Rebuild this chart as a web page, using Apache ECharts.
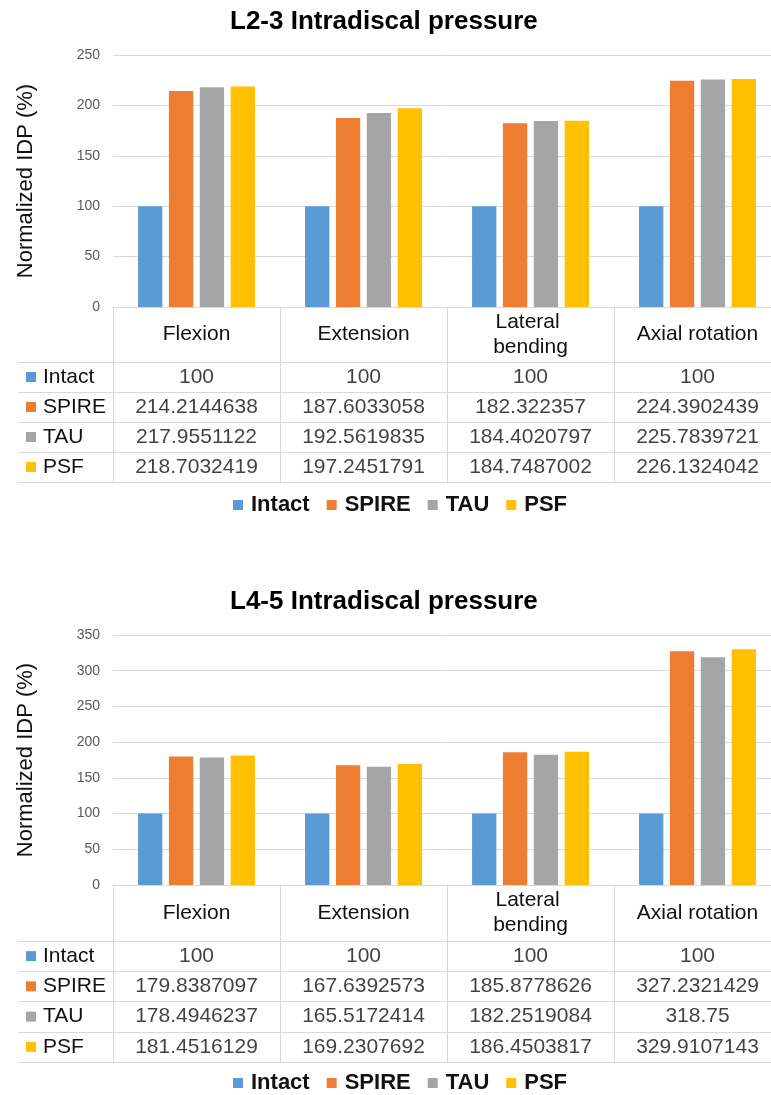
<!DOCTYPE html>
<html>
<head>
<meta charset="utf-8">
<script src="https://cdn.jsdelivr.net/npm/echarts@6/dist/echarts.min.js"></script>
<style>
html,body{margin:0;padding:0;background:#fff;}
#chart{width:771px;height:1095px;}
</style>
</head>
<body>
<div id="chart"></div>
<script>
// ---- data ----
const categories = ['Flexion', 'Extension', 'Lateral bending', 'Axial rotation'];
const seriesNames = ['Intact', 'SPIRE', 'TAU', 'PSF'];
const titles = ['L2-3 Intradiscal pressure', 'L4-5 Intradiscal pressure'];
const yAxisName = 'Normalized IDP (%)';

// L2-3
const l23Intact = [100, 100, 100, 100];
const l23Spire  = [214.2144638, 187.6033058, 182.322357, 224.3902439];
const l23Tau    = [217.9551122, 192.5619835, 184.4020797, 225.7839721];
const l23Psf    = [218.7032419, 197.2451791, 184.7487002, 226.1324042];

// L4-5
const l45Intact = [100, 100, 100, 100];
const l45Spire  = [179.8387097, 167.6392573, 185.8778626, 327.2321429];
const l45Tau    = [178.4946237, 165.5172414, 182.2519084, 318.75];
const l45Psf    = [181.4516129, 169.2307692, 186.4503817, 329.9107143];

// y-axis ticks
const l23YMax = 250, l45YMax = 350, yStep = 50;

// ---- styling ----
const colors = ['#5B9BD5', '#ED7D31', '#A5A5A5', '#FFC000'];
const FONT = "'Liberation Sans', Arial, sans-serif";
const lineColor = '#D9D9D9';
const textColor = '#111111';

const chart = echarts.init(document.getElementById('chart'), null, {renderer: 'canvas'});

const layouts = [
  {titleTop: 9, barTop: 55, barH: 252, headerH: 55, tableTop: 362, tableH: 120, yMax: l23YMax, legendTop: 494,
   data: [l23Intact, l23Spire, l23Tau, l23Psf]},
  {titleTop: 589, barTop: 635, barH: 250, headerH: 56, tableTop: 941, tableH: 121, yMax: l45YMax, legendTop: 1072,
   data: [l45Intact, l45Spire, l45Tau, l45Psf]}
];

const grid = [], xAxis = [], yAxis = [], series = [], title = [], legend = [];

const rich = {t: {fontSize: 21, fontFamily: FONT, color: textColor, padding: [0, 0, 0, 7]}};
colors.forEach((c, i) => { rich['s' + i] = {width: 10, height: 10, backgroundColor: c}; });

layouts.forEach((L, k) => {
  title.push({
    text: titles[k], left: 230, top: L.titleTop, padding: 0,
    textStyle: {fontFamily: FONT, fontSize: 26, fontWeight: 'bold', color: '#000'}
  });
  legend.push({
    data: seriesNames, left: 233, top: L.legendTop, icon: 'rect', itemWidth: 10, itemHeight: 10,
    itemGap: 17, padding: 0,
    textStyle: {fontFamily: FONT, fontSize: 22, fontWeight: 'bold', color: textColor, padding: [0, 0, 0, 3]}
  });
  const gBar = grid.length;
  grid.push({left: 113, width: 668, top: L.barTop, height: L.barH, containLabel: false, outerBoundsMode: 'none'});
  const gTab = grid.length;
  grid.push({left: 113, width: 668, top: L.tableTop, height: L.tableH, containLabel: false, outerBoundsMode: 'none'});

  const xBar = xAxis.length;
  xAxis.push({
    type: 'category', gridIndex: gBar, data: categories,
    axisLine: {show: true, lineStyle: {color: lineColor, width: 1}},
    axisTick: {show: true, interval: 0, length: L.headerH, lineStyle: {color: lineColor}},
    axisLabel: {interval: 0, margin: L.headerH / 2, verticalAlign: 'middle', fontSize: 21, fontFamily: FONT,
      color: textColor, width: 135, overflow: 'break', lineHeight: 25, align: 'center'}
  });
  const xTab = xAxis.length;
  xAxis.push({
    type: 'category', gridIndex: gTab, data: categories,
    axisLine: {show: true, lineStyle: {color: lineColor}},
    axisTick: {show: false}, axisLabel: {show: false},
    splitLine: {show: true, interval: 0, lineStyle: {color: lineColor}}
  });

  const yBar = yAxis.length;
  yAxis.push({
    type: 'value', gridIndex: gBar, min: 0, max: L.yMax, interval: yStep,
    name: yAxisName, nameLocation: 'middle', nameGap: 76, nameRotate: 90,
    nameTextStyle: {fontFamily: FONT, fontSize: 22, color: textColor},
    axisLine: {show: false}, axisTick: {show: false},
    axisLabel: {fontFamily: FONT, fontSize: 14, color: '#595959', margin: 13},
    splitLine: {show: true, lineStyle: {color: lineColor}}
  });
  const yTab = yAxis.length;
  yAxis.push({
    type: 'category', gridIndex: gTab, data: seriesNames, inverse: true,
    axisLine: {show: true, lineStyle: {color: lineColor}},
    axisTick: {show: true, interval: 0, length: 95, lineStyle: {color: lineColor}},
    axisLabel: {interval: 0, align: 'left', margin: 87,
      formatter: (v, i) => '{s' + i + '|}{t|' + v + '}', rich: rich},
    splitLine: {show: true, interval: 0, lineStyle: {color: lineColor}}
  });
  yAxis.push({
    type: 'category', gridIndex: gTab, data: seriesNames, inverse: true, offset: 95,
    axisLine: {show: true, lineStyle: {color: lineColor}},
    axisTick: {show: false}, axisLabel: {show: false}, splitLine: {show: false}
  });

  L.data.forEach((arr, si) => {
    series.push({
      type: 'bar', name: seriesNames[si], xAxisIndex: xBar, yAxisIndex: yBar,
      data: arr, barCategoryGap: '30%', barGap: '27%',
      itemStyle: {color: colors[si]}, silent: true
    });
  });

  const cells = [];
  L.data.forEach((arr, si) => {
    arr.forEach((v, ci) => cells.push([ci, si, v]));
  });
  series.push({
    type: 'scatter', name: 'table' + k, xAxisIndex: xTab, yAxisIndex: yTab,
    data: cells, symbol: 'rect', symbolSize: 1, itemStyle: {color: 'rgba(0,0,0,0)'}, silent: true,
    label: {show: true, position: 'inside', formatter: p => String(p.value[2]),
      fontFamily: FONT, fontSize: 21, color: textColor}
  });
});

chart.setOption({
  backgroundColor: '#ffffff',
  animation: false,
  title, legend, grid, xAxis, yAxis, series
});
</script>
</body>
</html>
